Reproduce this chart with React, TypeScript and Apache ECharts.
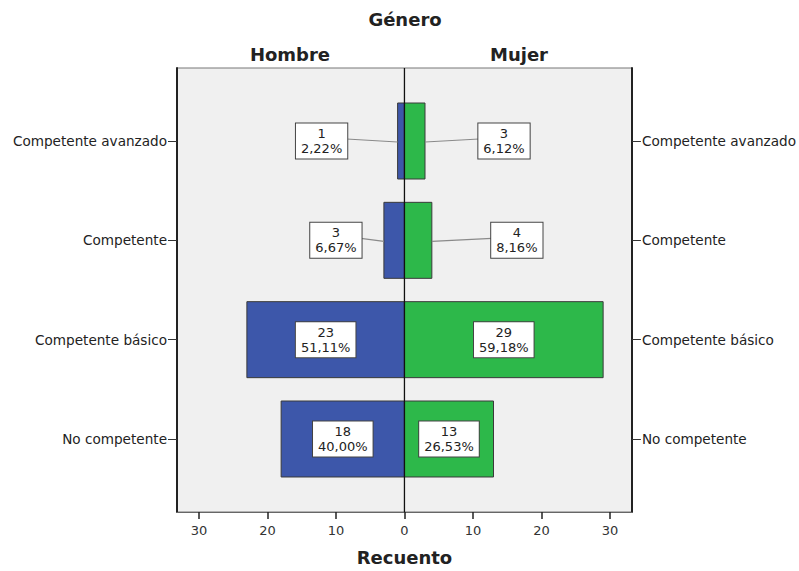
import React, { useEffect, useRef } from "react";
import * as echarts from "echarts";

const categories = ["Competente avanzado", "Competente", "Competente básico", "No competente"];
const hombreCounts = [1, 3, 23, 18];
const mujerCounts = [3, 4, 29, 13];
const hombrePct = ["2,22%", "6,67%", "51,11%", "40,00%"];
const mujerPct = ["6,12%", "8,16%", "59,18%", "26,53%"];
const xTicks = [-30, -20, -10, 0, 10, 20, 30];
const catTicks = [0, 1, 2, 3];

// label placement: 0 = inside bar centre, otherwise px distance from bar end to label centre
const hombreLabelOut = [76, 48, 0, 0];
const mujerLabelOut = [79, 85, 0, 0];

const FONT = "DejaVu Sans";
const BLUE = "#3d57aa";
const GREEN = "#2db84a";
const BAR_THICK = 0.765;

function makeSeries(name: string, counts: number[], pcts: string[], out: number[], sign: number, color: string) {
  return {
    type: "custom",
    name,
    xAxisIndex: 0,
    yAxisIndex: 0,
    clip: false,
    data: counts.map((c, i) => [sign * c, i, i]),
    renderItem: (params: any, api: any) => {
      const v = api.value(0);
      const c = api.value(1);
      const idx = api.value(2);
      const p0 = api.coord([0, c]);
      const p1 = api.coord([v, c]);
      const h = api.size([0, BAR_THICK])[1];
      const x0 = Math.min(p0[0], p1[0]);
      const w = Math.abs(p1[0] - p0[0]);
      const children: any[] = [
        {
          type: "rect",
          shape: { x: x0, y: p0[1] - h / 2, width: w, height: h },
          style: { fill: color, stroke: "#3a3a3a", lineWidth: 1 },
        },
      ];
      const o = out[idx];
      let lx = (p0[0] + p1[0]) / 2;
      if (o > 0) {
        lx = p1[0] + sign * o;
        const halfW = pcts[idx].length > 5 ? 29 : 25;
        children.push({
          type: "line",
          shape: { x1: lx - sign * halfW, y1: p0[1] - 2, x2: p1[0], y2: p0[1] + 1 },
          style: { stroke: "#8a8a8a", lineWidth: 1.2 },
        });
      }
      children.push({
        type: "text",
        style: {
          text: counts[idx] + "\n" + pcts[idx],
          x: lx,
          y: p0[1],
          align: "center",
          verticalAlign: "middle",
          font: "13px '" + FONT + "'",
          fill: "#222",
          lineHeight: 15,
          backgroundColor: "#ffffff",
          borderColor: "#444",
          borderWidth: 1,
          padding: [3, 5, 2, 5],
        },
      });
      return { type: "group", children };
    },
  };
}

export default function App() {
  const ref = useRef<HTMLDivElement>(null);
  useEffect(() => {
    if (!ref.current) return;
    const chart = echarts.init(ref.current, undefined, { renderer: "svg" });
    const catLabel = {
      customValues: catTicks,
      formatter: (v: number) => categories[Math.round(v)] ?? "",
      color: "#222",
      fontFamily: FONT,
      fontSize: 13.6,
      margin: 10,
    };
    const titleStyle = { fontFamily: FONT, fontWeight: "bold", fontSize: 18, color: "#222" };
    chart.setOption({
      animation: false,
      backgroundColor: "#ffffff",
      title: [
        { text: "Género", left: 405, top: 10, padding: 0, textAlign: "center", textStyle: titleStyle },
        { text: "Hombre", left: 290, top: 45, padding: 0, textAlign: "center", textStyle: titleStyle },
        { text: "Mujer", left: 519, top: 45, padding: 0, textAlign: "center", textStyle: titleStyle },
      ],
      grid: {
        left: 177,
        right: 799 - 632,
        top: 68,
        bottom: 571 - 517,
        show: true,
        backgroundColor: "#f0f0f0",
        borderColor: "#777",
        borderWidth: 1,
      },
      xAxis: {
        type: "value",
        min: -33.2,
        max: 33.2,
        name: "Recuento",
        nameLocation: "middle",
        nameGap: 36,
        nameTextStyle: titleStyle,
        axisLine: { show: true, onZero: false, lineStyle: { color: "#666", width: 1 } },
        axisTick: { show: true, customValues: xTicks, length: 7, lineStyle: { color: "#222", width: 1.5 } },
        axisLabel: {
          customValues: xTicks,
          formatter: (v: number) => String(Math.abs(v)),
          fontFamily: FONT,
          fontSize: 13,
          color: "#333",
          margin: 12,
        },
        splitLine: { show: false },
      },
      yAxis: [
        {
          type: "value",
          min: -0.735,
          max: 3.735,
          inverse: true,
          position: "left",
          axisLine: { show: true, onZero: false, lineStyle: { color: "#222", width: 2 } },
          axisTick: { show: true, customValues: catTicks, length: 9, lineStyle: { color: "#333", width: 1 } },
          axisLabel: catLabel,
          splitLine: { show: false },
        },
        {
          type: "value",
          min: -0.735,
          max: 3.735,
          inverse: true,
          position: "right",
          axisLine: { show: true, onZero: false, lineStyle: { color: "#222", width: 2 } },
          axisTick: { show: true, customValues: catTicks, length: 9, lineStyle: { color: "#333", width: 1 } },
          axisLabel: catLabel,
          splitLine: { show: false },
        },
      ],
      series: [
        makeSeries("Hombre", hombreCounts, hombrePct, hombreLabelOut, -1, BLUE),
        makeSeries("Mujer", mujerCounts, mujerPct, mujerLabelOut, 1, GREEN),
        {
          type: "line",
          data: [[0, -0.735], [0, 3.735]],
          symbol: "none",
          z: 10,
          silent: true,
          lineStyle: { color: "#111", width: 1.3 },
        },
      ],
    });
    return () => chart.dispose();
  }, []);
  return <div ref={ref} style={{ position: "fixed", left: 0, top: 0, width: 799, height: 571 }} />;
}
